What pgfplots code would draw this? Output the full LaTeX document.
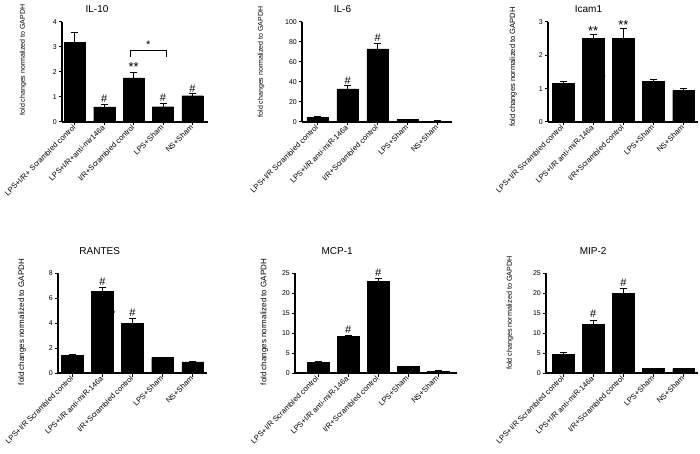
\documentclass[border=0pt]{standalone}
\usepackage{fontspec}
\setmainfont{Liberation Sans}
\usepackage{pgfplots}
\pgfplotsset{compat=1.18}
\pgfplotsset{
  gp/.style={
    scale only axis, height=100pt,
    axis x line*=bottom, axis y line*=left,
    axis line style={line width=1.1pt,-},
    ymin=0, clip=false,
    xtick={0,1,2,3,4},
    x tick label style={rotate=45, anchor=east, font=\fontsize{7.6}{8}\selectfont, inner sep=1pt},
    y tick label style={font=\fontsize{7}{8}\selectfont, inner sep=1.5pt},
    tick align=outside, tick style={line width=1pt, black}, major tick length=3.5pt,
    /pgf/number format/assume math mode=true,
    title style={font=\fontsize{10}{10}\selectfont, anchor=base},
  },
  gpbar/.style={ybar, fill=black, draw=black, bar width=0.72,
    error bars/.cd, y dir=plus, y explicit,
    error bar style={line width=1pt, black},
    error mark options={rotate=90, mark size=3.5pt, line width=1pt, black}},
  labsA/.style={xticklabels={{LPS+I/R Scrambled control},{LPS+I/R anti-miR-146a},{I/R+Scrambled control},{LPS+Sham},{NS+Sham}}},
}
\tikzset{ann/.style={font=\fontsize{11}{11}\selectfont, anchor=south, inner sep=0.5pt},
  star/.style={font=\fontsize{13}{13}\selectfont, anchor=south, inner sep=0pt}}
\begin{document}
\begin{tikzpicture}[x=1pt,y=1pt]
\useasboundingbox (0,0) rectangle (700,453);
% ---------- IL-10
\begin{axis}[gp, at={(62pt,331pt)}, anchor=south west, width=146pt,
  xmin=-0.44, xmax=4.53, ymax=4, ytick={0,1,2,3,4},
  xticklabels={{LPS+I/R+ Scrambled control},{LPS+I/R+anti-mir146a},{I/R+Scrambled control},{LPS+Sham},{NS+Sham}},
  title={IL-10}, title style={at={(axis description cs:0.24,1)}, yshift=3.7pt},
  ylabel={fold changes normalized to GAPDH},
  ylabel style={at={(axis description cs:-0.267,0.62)}, anchor=center, font=\fontsize{7}{8}\selectfont}]
\addplot[gpbar] table[x=x,y=y,y error=e] {
x y e
0 3.19 0.39
1 0.60 0.10
2 1.76 0.23
3 0.61 0.13
4 1.05 0.08
};
\node[ann] at (axis cs:1,0.76) {\#};
\node[star] at (axis cs:2,2.0) {**};
\node[ann] at (axis cs:3,0.78) {\#};
\node[ann] at (axis cs:4,1.17) {\#};
\draw[line width=1pt] (axis cs:1.88,2.6) -- (axis cs:1.88,2.84) -- (axis cs:3.12,2.84) -- (axis cs:3.12,2.6);
\node[ann] at (axis cs:2.5,2.92) {*};
\end{axis}
% ---------- IL-6
\begin{axis}[gp, at={(302pt,331pt)}, anchor=south west, width=150pt,
  xmin=-0.52, xmax=4.48, ymax=100, ytick={0,20,40,60,80,100},
  labsA,
  title={IL-6}, title style={at={(axis description cs:0.27,1)}, yshift=3.7pt},
  ylabel={fold changes normalized to GAPDH},
  ylabel style={at={(axis description cs:-0.273,0.6)}, anchor=center, font=\fontsize{7}{8}\selectfont}]
\addplot[gpbar] table[x=x,y=y,y error=e] {
x y e
0 4.7 0.3
1 33 3
2 73 5.5
3 2.6 0.3
4 0.8 0.2
};
\node[ann] at (axis cs:1,37) {\#};
\node[ann] at (axis cs:2,79.5) {\#};
\end{axis}
% ---------- Icam1
\begin{axis}[gp, at={(548pt,331pt)}, anchor=south west, width=150pt,
  xmin=-0.5, xmax=4.48, ymax=3, ytick={0,1,2,3},
  labsA,
  title={Icam1}, title style={at={(axis description cs:0.27,1)}, yshift=3.7pt},
  ylabel={fold changes normalized to GAPDH},
  ylabel style={at={(axis description cs:-0.233,0.55)}, anchor=center, font=\fontsize{7.6}{8}\selectfont}]
\node[font=\fontsize{9}{9}\selectfont] at (axis cs:1.36,1.3) {*};
\addplot[gpbar] table[x=x,y=y,y error=e] {
x y e
0 1.15 0.06
1 2.50 0.12
2 2.50 0.30
3 1.21 0.07
4 0.94 0.05
};
\node[star] at (axis cs:1,2.6) {**};
\node[star] at (axis cs:2,2.78) {**};
\end{axis}
% ---------- RANTES
\begin{axis}[gp, at={(58pt,80pt)}, anchor=south west, width=149pt,
  xmin=-0.48, xmax=4.48, ymax=8, ytick={0,2,4,6,8},
  labsA,
  title={RANTES}, title style={at={(axis description cs:0.28,1)}, yshift=13pt},
  ylabel={fold changes normalized to GAPDH},
  ylabel style={at={(axis description cs:-0.242,0.51)}, anchor=center, font=\fontsize{8}{8}\selectfont}]
\node[font=\fontsize{9}{9}\selectfont] at (axis cs:1.38,4.75) {*};
\addplot[gpbar] table[x=x,y=y,y error=e] {
x y e
0 1.42 0.03
1 6.56 0.27
2 4.00 0.33
3 1.24 0.04
4 0.90 0.04
};
\node[ann] at (axis cs:1,6.95) {\#};
\node[ann] at (axis cs:2,4.47) {\#};
\end{axis}
% ---------- MCP-1
\begin{axis}[gp, at={(295pt,80pt)}, anchor=south west, width=162pt,
  xmin=-0.77, xmax=4.63, ymax=25, ytick={0,5,10,15,20,25},
  labsA,
  title={MCP-1}, title style={at={(axis description cs:0.26,1)}, yshift=13pt},
  ylabel={fold changes normalized to GAPDH},
  ylabel style={at={(axis description cs:-0.19,0.51)}, anchor=center, font=\fontsize{8}{8}\selectfont}]
\addplot[gpbar] table[x=x,y=y,y error=e] {
x y e
0 2.75 0.10
1 9.17 0.25
2 23.0 0.60
3 1.6 0.10
4 0.5 0.05
};
\node[ann] at (axis cs:1,9.8) {\#};
\node[ann] at (axis cs:2,24.0) {\#};
\end{axis}
% ---------- MIP-2
\begin{axis}[gp, at={(546pt,80pt)}, anchor=south west, width=152pt,
  xmin=-0.57, xmax=4.48, ymax=25, ytick={0,5,10,15,20,25},
  labsA,
  title={MIP-2}, title style={at={(axis description cs:0.31,1)}, yshift=13pt},
  ylabel={fold changes normalized to GAPDH},
  ylabel style={at={(axis description cs:-0.237,0.6)}, anchor=center, font=\fontsize{7.2}{8}\selectfont}]
\addplot[gpbar] table[x=x,y=y,y error=e] {
x y e
0 4.75 0.40
1 12.2 1.00
2 20.0 1.10
3 1.2 0.05
4 1.1 0.05
};
\node[ann] at (axis cs:1,13.6) {\#};
\node[ann] at (axis cs:2,21.5) {\#};
\end{axis}
\end{tikzpicture}
\end{document}
